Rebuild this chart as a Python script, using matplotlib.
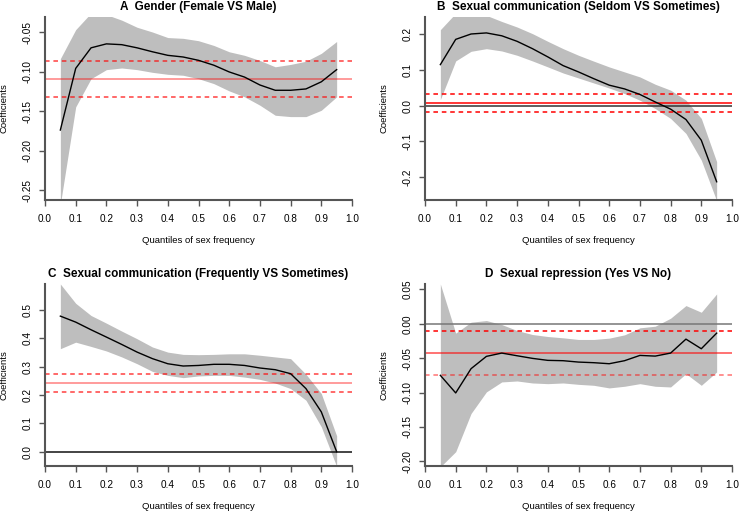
import matplotlib
matplotlib.use('Agg')
import matplotlib.pyplot as plt
import numpy as np

plt.rcParams['font.family'] = ['Liberation Sans', 'DejaVu Sans']
plt.rcParams['axes.unicode_minus'] = False

q = [0.05, 0.10, 0.15, 0.20, 0.25, 0.30, 0.35, 0.40, 0.45, 0.50,
     0.55, 0.60, 0.65, 0.70, 0.75, 0.80, 0.85, 0.90, 0.95]

titles = ['A  Gender (Female VS Male)',
          'B  Sexual communication (Seldom VS Sometimes)',
          'C  Sexual communication (Frequently VS Sometimes)',
          'D  Sexual repression (Yes VS No)']

# quantile regression coefficients
coef_a = [-0.174, -0.096, -0.070, -0.065, -0.066, -0.070, -0.075, -0.0795, -0.0816, -0.0858,
          -0.092, -0.1005, -0.107, -0.117, -0.1237, -0.1237, -0.122, -0.113, -0.0976]
upper_a = [-0.0837, -0.047, -0.026, -0.028, -0.035, -0.044, -0.050, -0.057, -0.058, -0.061,
           -0.067, -0.075, -0.0795, -0.086, -0.094, -0.091, -0.087, -0.077, -0.062]
lower_a = [-0.268, -0.1447, -0.109, -0.0976, -0.0955, -0.0976, -0.101, -0.1035, -0.1047, -0.109,
           -0.1153, -0.1245, -0.132, -0.1426, -0.1553, -0.157, -0.157, -0.149, -0.132]

coef_b = [0.1144, 0.185, 0.200, 0.203, 0.195, 0.1795, 0.159, 0.136, 0.1116, 0.094,
          0.075, 0.057, 0.0465, 0.031, 0.010, -0.010, -0.039, -0.097, -0.213]
upper_b = [0.212, 0.258, 0.262, 0.252, 0.235, 0.2195, 0.201, 0.1795, 0.159, 0.1405,
           0.124, 0.108, 0.094, 0.080, 0.0595, 0.043, 0.015, -0.036, -0.157]
lower_b = [0.0167, 0.1247, 0.1516, 0.159, 0.1526, 0.1405, 0.1247, 0.108, 0.091, 0.077,
           0.063, 0.049, 0.0335, 0.015, -0.0084, -0.036, -0.078, -0.1526, -0.266]

coef_c = [0.4778, 0.4567, 0.4297, 0.404, 0.378, 0.351, 0.328, 0.310, 0.302, 0.304,
          0.308, 0.308, 0.304, 0.295, 0.289, 0.275, 0.2225, 0.1405, 0.0]
upper_c = [0.591, 0.523, 0.480, 0.453, 0.425, 0.398, 0.369, 0.351, 0.343, 0.342,
           0.343, 0.345, 0.345, 0.340, 0.334, 0.328, 0.273, 0.205, 0.056]
lower_c = [0.363, 0.386, 0.371, 0.355, 0.334, 0.310, 0.283, 0.269, 0.261, 0.267,
           0.269, 0.269, 0.263, 0.255, 0.242, 0.2225, 0.1815, 0.088, -0.052]

coef_d = [-0.0749, -0.1005, -0.0652, -0.0473, -0.0425, -0.0464, -0.0502, -0.0531, -0.0536, -0.0556,
          -0.0565, -0.058, -0.0536, -0.0459, -0.0469, -0.0425, -0.0222, -0.0362, -0.0135]
upper_d = [0.058, -0.0135, 0.0024, 0.0048, -0.001, -0.0097, -0.0155, -0.0184, -0.0203, -0.0227,
           -0.0227, -0.0208, -0.016, -0.0058, -0.0034, 0.0082, 0.0266, 0.0169, 0.0435]
lower_d = [-0.208, -0.186, -0.1304, -0.099, -0.0845, -0.0831, -0.086, -0.087, -0.086, -0.088,
           -0.0894, -0.0932, -0.0908, -0.087, -0.0908, -0.0918, -0.0725, -0.0894, -0.070]

# OLS estimate and its confidence interval
ols = [-0.1098, 0.0074, 0.2424, -0.0425]
ols_hi = [-0.087, 0.0335, 0.273, -0.0106]
ols_lo = [-0.1317, -0.0177, 0.212, -0.0739]

ylims = [(-0.2625, -0.031), (-0.264, 0.2475), (-0.0503, 0.591), (-0.2068, 0.058)]
yticks = [[-0.25, -0.20, -0.15, -0.10, -0.05],
          [-0.2, -0.1, 0.0, 0.1, 0.2],
          [0.0, 0.1, 0.2, 0.3, 0.4, 0.5],
          [-0.20, -0.15, -0.10, -0.05, 0.00, 0.05]]
yfmt = ['%.2f', '%.1f', '%.1f', '%.2f']
red_alpha = [(0.5, 0.75, 0.75), (1, 1, 1), (0.5, 0.75, 0.75), (0.7, 1, 0.55)]
zero_col = [None, '#333333', '#111111', '#777777']

coefs = [coef_a, coef_b, coef_c, coef_d]
uppers = [upper_a, upper_b, upper_c, upper_d]
lowers = [lower_a, lower_b, lower_c, lower_d]

W, H = 739, 514
fig = plt.figure(figsize=(W / 100, H / 100), dpi=100)
boxes = [(45, 17, 352, 200), (425, 17, 732, 200), (45, 284, 352, 466), (425, 284, 732, 466)]

for i in range(4):
    l, t, r, b = boxes[i]
    ax = fig.add_axes([l / W, 1 - b / H, (r - l) / W, (b - t) / H])
    ax.fill_between(q, lowers[i], uppers[i], color='#bebebe', lw=0)
    if zero_col[i]:
        ax.axhline(0, color=zero_col[i], lw=1.1)
    ax.axhline(ols[i], color='red', lw=1.1, alpha=red_alpha[i][0])
    ax.axhline(ols_hi[i], color='red', lw=1.1, ls=(0, (3, 2.5)), alpha=red_alpha[i][1])
    ax.axhline(ols_lo[i], color='red', lw=1.1, ls=(0, (3, 2.5)), alpha=red_alpha[i][2])
    ax.plot(q, coefs[i], color='black', lw=1.0)
    ax.set_xlim(0, 1)
    ax.set_ylim(*ylims[i])
    ax.set_xticks(np.arange(0, 1.01, 0.1))
    ax.set_xticklabels(['%.1f' % v for v in np.arange(0, 1.01, 0.1)])
    ax.set_yticks(yticks[i])
    ax.set_yticklabels([yfmt[i] % v for v in yticks[i]], rotation=90, va='center')
    for s in ['top', 'right']:
        ax.spines[s].set_visible(False)
    for s in ['left', 'bottom']:
        ax.spines[s].set_color('#555555')
        ax.spines[s].set_linewidth(1.5)
    ax.tick_params(direction='out', length=4, width=1.0, color='#555555',
                   labelsize=7.2)
    ax.tick_params(axis='x', pad=6)
    ax.tick_params(axis='y', pad=5)
    ax.set_xlabel('Quantiles of sex frequency', fontsize=6.8, labelpad=9)
    ax.set_ylabel('Coefficients', fontsize=6.8, labelpad=10)
    ax.set_title(titles[i], fontsize=8.5, fontweight='bold', pad=5)

fig.savefig('out.png', dpi=100)
